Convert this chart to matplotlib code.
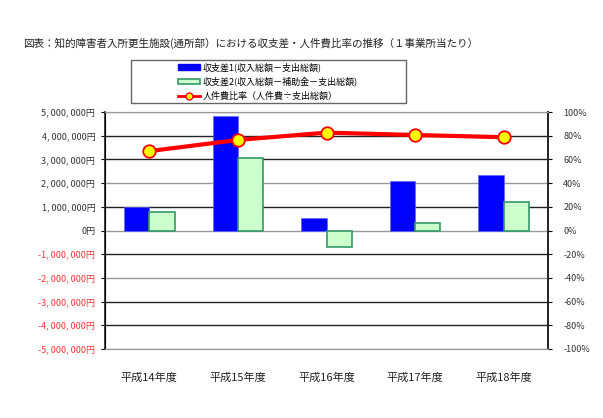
import numpy as np
from matplotlib import pyplot as plt
from matplotlib.lines import Line2D
from matplotlib.patches import Patch, Rectangle

plt.rcParams['font.family'] = ['Noto Sans CJK JP', 'DejaVu Sans']

# データ（1事業所当たり）
years = ["平成14年度", "平成15年度", "平成16年度", "平成17年度", "平成18年度"]
diff1 = [1000000, 4850000, 520000, 2080000, 2360000]   # 収支差1
diff2 = [780000, 3080000, -680000, 300000, 1210000]    # 収支差2
ratio = [67.0, 76.4, 82.6, 80.6, 78.7]                 # 人件費比率(%)

left_ticks = list(range(-5000000, 5000001, 1000000))
right_ticks = list(range(-100, 101, 20))

fig = plt.figure(figsize=(6.03, 4.18), dpi=100)
ax = fig.add_axes([105 / 603, 1 - 349 / 418, 443 / 603, 237 / 418])

x = np.arange(len(years))
w = 0.286
ax.bar(x - w / 2, diff1, w, color="#0000ff", edgecolor="#6666ff", linewidth=0.5, zorder=3)
ax.bar(x + w / 2, diff2, w, color="#ccffcc", edgecolor="#339966", linewidth=1.2, zorder=3)

ax.set_xlim(-0.5, len(years) - 0.5)
ax.set_ylim(-5000000, 5000000)
ax.set_yticks(left_ticks)
labels = [f"{v:,}円".replace(",", ", ") for v in left_ticks]
ax.set_yticklabels(labels, fontsize=6.5)
for t, v in zip(ax.get_yticklabels(), left_ticks):
    t.set_color("#ff3333" if v < 0 else "#333333")
ax.set_xticks(x)
ax.set_xticklabels(years, fontsize=8, color="#222222")
ax.tick_params(axis="x", length=0, pad=17)
ax.tick_params(axis="y", length=3, width=0.8, pad=4)

# 目盛線
grid_colors = ["#999999", "#222222", "#222222", "#999999", "#222222", "#999999",
               "#222222", "#999999", "#222222", "#222222", "#999999"]
for v, c in zip(left_ticks[::-1], grid_colors):
    ax.axhline(v, color=c, linewidth=1.0, zorder=1)

for s in ["top", "bottom"]:
    ax.spines[s].set_color("#999999")
for s in ["left", "right"]:
    ax.spines[s].set_color("#222222")
    ax.spines[s].set_linewidth(1.2)

ax2 = ax.twinx()
ax2.plot(x, ratio, color="#ff0000", linewidth=3, marker="o", markersize=9,
         markerfacecolor="#ffff00", markeredgecolor="#ff0000", markeredgewidth=1.3, zorder=5)
ax2.set_ylim(-100, 100)
ax2.set_yticks(right_ticks)
ax2.set_yticklabels([f"{v}%" for v in right_ticks], fontsize=6.5, color="#333333")
ax2.tick_params(axis="y", length=3, width=0.8, pad=8)
ax2.spines["right"].set_color("#222222")
ax2.spines["right"].set_linewidth(1.2)
ax2.spines["top"].set_color("#999999")
ax2.spines["bottom"].set_color("#999999")

fig.text(23 / 603, 1 - 43 / 418, "図表：知的障害者入所更生施設(通所部）における収支差・人件費比率の推移（１事業所当たり）",
         fontsize=7.6, va="center", color="#222222")

# 凡例の枠
fig.patches.append(Rectangle((131 / 603, 1 - 103 / 418), 275 / 603, 43 / 418,
                             transform=fig.transFigure, facecolor="white",
                             edgecolor="#666666", linewidth=1))

handles = [
    Patch(facecolor="#0000ff", edgecolor="#0000ff"),
    Patch(facecolor="#ccffcc", edgecolor="#339966", linewidth=1.2),
    Line2D([], [], color="#ff0000", linewidth=2, marker="o", markersize=5,
           markerfacecolor="#ffff00", markeredgecolor="#ff0000"),
]
names = ["収支差1(収入総額－支出総額)", "収支差2(収入総額－補助金－支出総額)", "人件費比率（人件費÷支出総額）"]
leg = fig.legend(handles, names, loc="center",
                 bbox_to_anchor=(268 / 603, 1 - 81.5 / 418),
                 fontsize=6.5, frameon=False,
                 handlelength=2.5, handleheight=0.6, handletextpad=0.3,
                 labelspacing=0.55, borderpad=0.2)

fig.savefig("out.png", dpi=100)
